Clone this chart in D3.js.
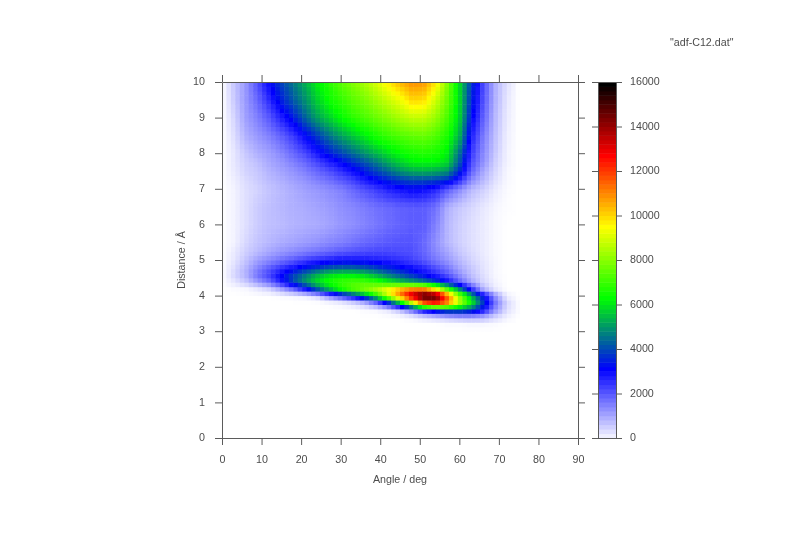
<!DOCTYPE html>
<html>
<head>
<meta charset="utf-8">
<title>adf-C12.dat</title>
<script src="https://cdn.jsdelivr.net/npm/d3@7"></script>
<style>
    html, body { margin: 0; padding: 0; background: #fff; }
    text { font-family: "Liberation Sans", Arial, sans-serif; font-size: 10.7px; fill: #4a4a4a; }
    .domain, .tick line, .box { stroke: #5a5a5a; }
</style>
</head>
<body>
<div class="viewport"></div>
<script>

var title = '"adf-C12.dat"';
var xLabel = "Angle / deg";
var yLabel = "Distance / Å";

var xTicks = [0, 10, 20, 30, 40, 50, 60, 70, 80, 90];
var yTicks = [0, 1, 2, 3, 4, 5, 6, 7, 8, 9, 10];
var cbTicks = [0, 2000, 4000, 6000, 8000, 10000, 12000, 14000, 16000];

// palette stops as seen on the colour box
var paletteValues = [0, 3200, 6400, 9600, 12800, 16000];
var paletteColors = ["#ffffff", "#0000ff", "#00ff00", "#ffff00", "#ff0000", "#000000"];
var paletteSteps = 80;

// grid: one row per distance, one value per angle
var angles = [0, 3, 6, 9, 12, 15, 18, 21, 24, 27, 30, 33, 36, 39, 42, 45, 48, 51, 54, 57, 60, 63, 66, 69, 72, 75];
var distances = [10, 9.5, 9, 8.5, 8, 7.75, 7.5, 7.25, 7, 6.5, 6, 5.5, 5.25, 5, 4.8, 4.6, 4.4, 4.2, 4, 3.8, 3.6, 3.4, 3.2, 3];
var counts = [
    [0, 700, 1300, 2200, 3200, 4000, 4700, 5400, 6200, 6900, 7500, 8000, 8500, 9100, 9800, 10500, 11000, 10900, 9900, 8000, 6000, 3900, 2300, 1000, 400, 0],
    [0, 650, 1300, 1900, 2700, 3600, 4300, 5000, 5800, 6500, 7000, 7500, 7900, 8400, 8900, 9400, 10100, 10000, 9000, 7700, 6000, 3700, 2200, 1000, 300, 0],
    [0, 500, 1200, 1600, 2100, 2800, 3500, 4400, 5200, 5800, 6400, 6900, 7300, 7700, 8100, 8500, 8800, 8800, 8300, 7300, 5900, 3400, 2000, 900, 250, 0],
    [0, 400, 1000, 1300, 1600, 2000, 2500, 3200, 3900, 4600, 5200, 5700, 6200, 6700, 7100, 7400, 7600, 7700, 7400, 6700, 5500, 2900, 1700, 800, 200, 0],
    [0, 300, 700, 1000, 1200, 1500, 1900, 2300, 2900, 3500, 4000, 4500, 5000, 5500, 6000, 6400, 6700, 6800, 6700, 6200, 4600, 2500, 1500, 700, 150, 0],
    [0, 300, 600, 800, 1100, 1300, 1600, 1900, 2300, 2800, 3200, 3700, 4200, 4700, 5300, 5800, 6200, 6300, 6300, 5900, 4300, 2300, 1400, 600, 150, 0],
    [0, 250, 550, 700, 950, 1150, 1350, 1600, 1900, 2200, 2600, 3000, 3500, 4000, 4500, 5000, 5300, 5400, 5300, 5000, 3700, 2000, 1100, 500, 100, 0],
    [0, 200, 450, 650, 850, 1000, 1200, 1350, 1600, 1800, 2100, 2400, 2900, 3200, 3600, 3900, 4100, 4100, 4000, 3700, 2700, 1500, 900, 400, 80, 0],
    [0, 150, 400, 550, 750, 900, 1050, 1200, 1300, 1450, 1600, 1900, 2200, 2500, 2800, 3000, 3200, 3100, 2800, 2100, 1500, 900, 600, 250, 50, 0],
    [0, 150, 400, 650, 800, 900, 1000, 1050, 1150, 1250, 1400, 1500, 1650, 1800, 1900, 2000, 2050, 2050, 1800, 1000, 700, 500, 300, 120, 30, 0],
    [0, 150, 400, 650, 800, 850, 950, 1000, 1050, 1150, 1300, 1400, 1550, 1700, 1850, 1950, 2050, 2050, 1600, 900, 600, 400, 250, 80, 0, 0],
    [0, 150, 500, 750, 900, 1050, 1150, 1250, 1350, 1500, 1600, 1750, 1900, 2000, 2100, 2150, 2150, 1900, 1400, 900, 600, 400, 250, 80, 0, 0],
    [0, 250, 600, 850, 1100, 1300, 1450, 1600, 1750, 1900, 2050, 2150, 2250, 2300, 2300, 2250, 2200, 1950, 1500, 1100, 700, 450, 250, 80, 0, 0],
    [0, 300, 750, 1200, 1500, 1800, 2100, 2400, 2650, 2850, 3000, 3000, 2950, 2850, 2750, 2600, 2400, 2100, 1700, 1300, 900, 550, 300, 100, 0, 0],
    [0, 400, 900, 1500, 2000, 2500, 2950, 3400, 3800, 4200, 4350, 4350, 4200, 3900, 3600, 3300, 3000, 2700, 2200, 1700, 1100, 700, 350, 100, 0, 0],
    [0, 500, 1000, 1800, 2400, 3200, 4000, 4700, 5400, 5900, 6100, 6100, 5800, 5300, 4700, 4200, 3700, 3200, 2700, 2100, 1400, 800, 400, 100, 0, 0],
    [0, 300, 700, 1300, 1900, 2900, 4100, 5100, 6000, 6700, 7100, 7300, 7300, 6900, 6300, 5700, 5200, 4700, 4000, 3100, 2000, 1100, 500, 150, 0, 0],
    [0, 50, 100, 300, 600, 1200, 2000, 3100, 4400, 5600, 6700, 7500, 8000, 8600, 9400, 10300, 11000, 11000, 9400, 7100, 4800, 2600, 900, 250, 0, 0],
    [0, 0, 0, 0, 0, 50, 100, 200, 500, 1500, 2500, 3500, 4800, 6600, 9000, 11500, 14000, 15800, 15400, 11800, 8400, 5600, 3400, 1400, 200, 0],
    [0, 0, 0, 0, 0, 0, 0, 0, 0, 50, 150, 400, 800, 1700, 3300, 5500, 8500, 11500, 12500, 11000, 8500, 6300, 3900, 1800, 500, 50],
    [0, 0, 0, 0, 0, 0, 0, 0, 0, 0, 0, 0, 50, 100, 300, 800, 1800, 3200, 4000, 4600, 4600, 4200, 3000, 1400, 400, 50],
    [0, 0, 0, 0, 0, 0, 0, 0, 0, 0, 0, 0, 0, 0, 0, 0, 100, 300, 500, 700, 900, 1000, 900, 500, 150, 0],
    [0, 0, 0, 0, 0, 0, 0, 0, 0, 0, 0, 0, 0, 0, 0, 0, 0, 0, 0, 50, 50, 100, 100, 50, 0, 0],
    [0, 0, 0, 0, 0, 0, 0, 0, 0, 0, 0, 0, 0, 0, 0, 0, 0, 0, 0, 0, 0, 0, 0, 0, 0, 0]
];

function letsGo() {

    var width = 800,
        height = 533,
        left = 222,
        right = 578,
        top = 82,
        bottom = 438,
        cbLeft = 598,
        cbRight = 616,
        cells = 80;

    var x = d3.scaleLinear().domain([0, 90]).range([left, right]);
    var y = d3.scaleLinear().domain([0, 10]).range([bottom, top]);
    var cb = d3.scaleLinear().domain([0, 16000]).range([bottom, top]);
    var color = d3.scaleLinear().domain(paletteValues).range(paletteColors);

    var svg = d3.select(".viewport").append("svg")
        .attr("width", width)
        .attr("height", height)
        .style("display", "block");

    // soft edges, the reference image is slightly blurred
    svg.append("defs").append("filter")
        .attr("id", "soft")
        .attr("x", "-5%").attr("y", "-5%").attr("width", "110%").attr("height", "110%")
        .append("feGaussianBlur")
        .attr("stdDeviation", 0.7);

    svg.select("defs").append("clipPath")
        .attr("id", "plot")
        .append("rect")
        .attr("x", left).attr("y", top)
        .attr("width", right - left).attr("height", bottom - top);

    // gnuplot's colour box has a fixed number of colours
    function level(v) {
        var step = 16000 / paletteSteps;
        return color(Math.min(16000, Math.floor(v / step + 0.5) * step));
    }

    // same idea as pm3d interpolate: each small cell samples the read-off grid
    function sample(a, d) {
        if (a >= angles[angles.length - 1] || d <= distances[distances.length - 1]) {
            return 0;
        }
        var i = Math.min(d3.bisectRight(angles, a) - 1, angles.length - 2),
            j = 0;
        while (j < distances.length - 2 && distances[j + 1] >= d) {
            j++;
        }
        var s = (a - angles[i]) / (angles[i + 1] - angles[i]),
            t = (distances[j] - d) / (distances[j] - distances[j + 1]);
        return (1 - t) * ((1 - s) * counts[j][i] + s * counts[j][i + 1]) +
            t * ((1 - s) * counts[j + 1][i] + s * counts[j + 1][i + 1]);
    }

    var grid = d3.cross(d3.range(cells), d3.range(cells));

    svg.append("g")
        .attr("clip-path", "url(#plot)")
        .append("g")
        .attr("filter", "url(#soft)")
        .selectAll("rect")
        .data(grid)
        .enter().append("rect")
        .attr("x", function(d) { return x(d[0] * 90 / cells); })
        .attr("y", function(d) { return y((d[1] + 1) * 10 / cells); })
        .attr("width", x(90 / cells) - x(0) + 0.5)
        .attr("height", y(0) - y(10 / cells) + 0.5)
        .attr("fill", function(d) {
            return color(sample((d[0] + 0.5) * 90 / cells, (d[1] + 0.5) * 10 / cells));
        });

    // colour box
    svg.append("g")
        .selectAll("rect")
        .data(d3.range(paletteSteps))
        .enter().append("rect")
        .attr("x", cbLeft)
        .attr("width", cbRight - cbLeft)
        .attr("y", function(d) { return cb((d + 1) * 16000 / paletteSteps); })
        .attr("height", cb(0) - cb(16000 / paletteSteps) + 0.5)
        .attr("fill", function(d) { return level((d + 0.5) * 16000 / paletteSteps); });

    // everything with text or lines goes in here, the layer keeps the text grey
    var front = svg.append("g").attr("opacity", 0.99);

    function put(axis, tx, ty) {
        return front.append("g")
            .attr("transform", "translate(" + tx + "," + ty + ")")
            .call(axis);
    }

    put(d3.axisBottom(x).tickValues(xTicks).tickSizeInner(7).tickSizeOuter(0).tickPadding(10), 0, bottom);
    put(d3.axisTop(x).tickValues(xTicks).tickSizeInner(7).tickSizeOuter(0).tickFormat(""), 0, top);
    put(d3.axisLeft(y).tickValues(yTicks).tickSizeInner(7).tickSizeOuter(0).tickPadding(10), left, 0);
    put(d3.axisRight(y).tickValues(yTicks).tickSizeInner(7).tickSizeOuter(0).tickFormat(""), right, 0);

    put(d3.axisLeft(cb).tickValues(cbTicks).tickSizeInner(6).tickSizeOuter(0).tickFormat(""), cbLeft, 0);
    put(d3.axisRight(cb).tickValues(cbTicks).tickSizeInner(6).tickSizeOuter(0).tickPadding(8).tickFormat(d3.format("d")), cbRight, 0);

    front.append("rect")
        .attr("class", "box")
        .attr("x", cbLeft + 0.5)
        .attr("y", top + 0.5)
        .attr("width", cbRight - cbLeft)
        .attr("height", bottom - top)
        .attr("fill", "none");

    front.selectAll("g").attr("font-family", null).attr("font-size", null);
    front.selectAll(".tick text").filter(function() {
        return this.getAttribute("dy") === "0.32em";
    }).attr("dy", "0.25em");

    front.append("text")
        .attr("x", 670)
        .attr("y", 46)
        .text(title);

    front.append("text")
        .attr("x", (left + right) / 2)
        .attr("y", 483)
        .attr("text-anchor", "middle")
        .text(xLabel);

    front.append("text")
        .attr("transform", "translate(185," + ((top + bottom) / 2) + ") rotate(-90)")
        .attr("text-anchor", "middle")
        .text(yLabel);
}

letsGo();
</script>
</body>
</html>
